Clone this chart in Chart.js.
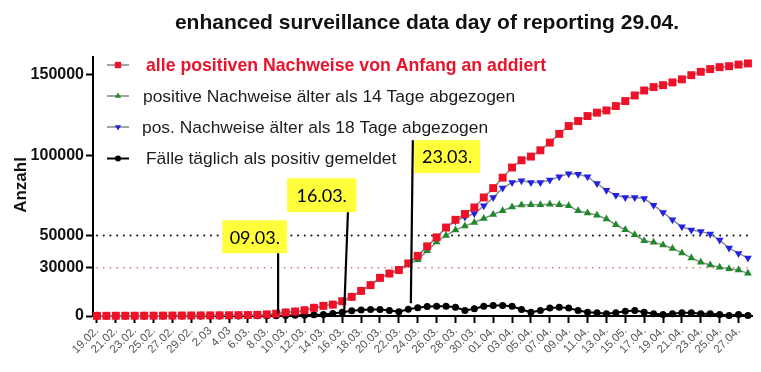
<!DOCTYPE html>
<html>
<head>
<meta charset="utf-8">
<script src="https://cdn.jsdelivr.net/npm/chart.js@4.4.1/dist/chart.umd.min.js"></script>
<style>
  body { margin: 0; background: #fff; }
  #wrap { width: 761px; height: 372px; }
</style>
</head>
<body>
<div id="wrap"><canvas id="chart" width="761" height="372"></canvas></div>
<script>
const titleText = 'enhanced surveillance data day of reporting 29.04.';
const yTitle = 'Anzahl';

// one tick label every second day, starting 19.02.
const tickLabels = ['19.02.', '21.02.', '23.02.', '25.02.', '27.02.', '29.02.', '2.03', '4.03', '6.03.', '8.03.',
  '10.03.', '12.03.', '14.03.', '16.03.', '18.03.', '20.03.', '22.03.', '24.03.', '26.03.', '28.03.',
  '30.03.', '01.04.', '03.04.', '05.04.', '07.04.', '09.04.', '11.04.', '13.04.', '15.05.', '17.04.',
  '19.04.', '21.04.', '23.04.', '25.04.', '27.04.'];
const yTicks = [0, 30000, 50000, 100000, 150000];
const refLines = [50000, 30000];

const seriesNames = [
  'alle positiven Nachweise von Anfang an addiert',
  'positive Nachweise älter als 14 Tage abgezogen',
  'pos. Nachweise älter als 18 Tage abgezogen',
  'Fälle täglich als positiv gemeldet'
];

// 19.02. .. 28.04. (70 days)
const allPositive = [100, 110, 130, 150, 170, 190, 210, 230, 260, 290,
  320, 350, 380, 420, 460, 520, 600, 700, 1000, 1450,
  2200, 2800, 3600, 5100, 6300, 7100, 9200, 11900, 15600, 19200,
  23700, 26400, 28600, 32700, 37400, 43300, 48900, 55000, 59800, 63400,
  67500, 73700, 79500, 86000, 92300, 96800, 99100, 103000, 107800, 113200,
  118100, 121200, 124300, 126400, 127800, 130500, 133600, 137100, 140200, 142300,
  143500, 145200, 147100, 149700, 151800, 153500, 154700, 155300, 156300, 157000];

const minus14 = [100, 110, 130, 150, 170, 190, 210, 230, 260, 290,
  320, 350, 380, 420, 460, 520, 600, 700, 1000, 1450,
  2200, 2800, 3600, 5100, 6300, 7100, 9200, 11900, 15600, 19200,
  23700, 26400, 28600, 31800, 35000, 40500, 46000, 50100, 53400, 56000,
  58100, 60600, 63100, 65500, 67800, 69000, 69100, 69100, 69500, 69100,
  68500, 65400, 64000, 62700, 60300, 56700, 53600, 50500, 46800, 45800,
  44100, 42000, 39200, 36100, 33400, 31700, 30300, 29300, 28600, 26500];

const minus18 = [100, 110, 130, 150, 170, 190, 210, 230, 260, 290,
  320, 350, 380, 420, 460, 520, 600, 700, 1000, 1450,
  2200, 2800, 3600, 5100, 6300, 7100, 9200, 11900, 15600, 19200,
  23700, 26400, 28600, 32700, 37400, 43300, 48900, 55000, 59000, 61500,
  63700, 68500, 73700, 79500, 83000, 84000, 83000, 83000, 84500, 86500,
  88500, 88100, 86500, 82300, 78200, 75100, 73600, 73600, 73000, 68900,
  64400, 59800, 55500, 53400, 52600, 50900, 47200, 42300, 38900, 36100];

const daily = [0, 0, 0, 0, 0, 0, 0, 0, 0, 0,
  0, 0, 0, 20, 30, 50, 80, 100, 150, 200,
  300, 400, 500, 700, 1000, 1500, 2400, 3200, 3800, 4000,
  4000, 3400, 2600, 4200, 5200, 5900, 6100, 6100, 5500, 3400,
  4500, 6100, 6500, 6500, 6100, 4000, 2400, 3400, 4900, 5500,
  4900, 3400, 2400, 2000, 1400, 2000, 3000, 3400, 2400, 1400,
  1000, 1400, 2000, 2000, 1400, 1400, 1000, 300, 1000, 300];

// date markers: line from (x1,y1) to (x2,y2), box spans [xa,xb] x [ya,yb], all in data units
const markers = [
  { text: '09.03.', x1: 19.2, y1: 1700, x2: 19.2, y2: 39000, box: [13.3, 20.15, 59500, 39000] },
  { text: '16.03.', x1: 26.2, y1: 1700, x2: 26.6, y2: 64500, box: [20.15, 27.5, 85600, 64500] },
  { text: '23.03.', x1: 33.27, y1: 7900, x2: 33.48, y2: 109300, box: [33.62, 40.6, 109300, 88800] }
];

const colors = ['#ee1127', '#1f8a2a', '#2121e4', '#000000'];
const lineGrey = '#8c8c8c';
const styles = [
  { pointStyle: 'rect', radius: 5.6, rotation: 0, line: lineGrey },
  { pointStyle: 'triangle', radius: 4.5, rotation: 0, line: lineGrey },
  { pointStyle: 'triangle', radius: 4.5, rotation: 180, line: lineGrey },
  { pointStyle: 'circle', radius: 3.5, rotation: 0, line: '#000' }
];

const dayIndex = allPositive.map((v, i) => i);
const seriesData = [allPositive, minus14, minus18, daily];

function drawMarker(ctx, style, color, x, y, r) {
  ctx.fillStyle = color;
  ctx.beginPath();
  if (style.pointStyle === 'rect') {
    const s = r * Math.SQRT1_2;
    ctx.rect(x - s, y - s, 2 * s, 2 * s);
  } else if (style.pointStyle === 'triangle') {
    const dir = style.rotation ? -1 : 1;
    ctx.moveTo(x, y - dir * r);
    ctx.lineTo(x + r * 0.866, y + dir * r * 0.5);
    ctx.lineTo(x - r * 0.866, y + dir * r * 0.5);
    ctx.closePath();
  } else {
    ctx.arc(x, y, r, 0, Math.PI * 2);
  }
  ctx.fill();
}

const overlay = {
  id: 'overlay',
  beforeDatasetsDraw(chart) {
    const { ctx, scales: { x, y } } = chart;
    ctx.save();
    ctx.lineCap = 'round';
    refLines.forEach((v, k) => {
      const py = y.getPixelForValue(v);
      ctx.strokeStyle = k === 0 ? '#111' : '#e05566';
      ctx.lineWidth = k === 0 ? 2 : 1.6;
      ctx.setLineDash([0.1, 6.6]);
      ctx.beginPath();
      ctx.moveTo(x.left + 4, py);
      ctx.lineTo(x.right - 2, py);
      ctx.stroke();
    });
    ctx.restore();
  },
  afterDatasetsDraw(chart) {
    const { ctx, scales: { x, y } } = chart;
    ctx.save();
    markers.forEach(m => {
      const bx = x.getPixelForValue(m.box[0]);
      const bw = x.getPixelForValue(m.box[1]) - bx;
      const by = y.getPixelForValue(m.box[2]);
      const bh = y.getPixelForValue(m.box[3]) - by;
      ctx.fillStyle = '#ffff3c';
      ctx.fillRect(bx, by, bw, bh);
      ctx.strokeStyle = '#000';
      ctx.lineWidth = 2.2;
      ctx.beginPath();
      ctx.moveTo(x.getPixelForValue(m.x1), y.getPixelForValue(m.y1));
      ctx.lineTo(x.getPixelForValue(m.x2), y.getPixelForValue(m.y2));
      ctx.stroke();
      ctx.fillStyle = '#000';
      ctx.font = '18px Lato';
      ctx.textAlign = 'center';
      ctx.textBaseline = 'middle';
      ctx.fillText(m.text, bx + bw / 2, by + bh / 2 + 1);
    });
    ctx.restore();
  },
  afterDraw(chart) {
    const ctx = chart.ctx;
    ctx.save();
    // title
    ctx.fillStyle = '#111';
    ctx.font = 'bold 21px "Liberation Sans"';
    ctx.textAlign = 'center';
    ctx.textBaseline = 'middle';
    ctx.fillText(titleText, 427, 23);
    // y axis title
    ctx.save();
    ctx.translate(21, 185);
    ctx.rotate(-Math.PI / 2);
    ctx.font = 'bold 17px "Liberation Sans"';
    ctx.fillText(yTitle, 0, 0);
    ctx.restore();
    // legend
    const rowY = [65, 96, 127, 158.5];
    const textX = [146, 143, 142, 146];
    seriesNames.forEach((name, i) => {
      const yy = rowY[i];
      ctx.strokeStyle = styles[i].line;
      ctx.lineWidth = i === 3 ? 2 : 1.6;
      ctx.beginPath();
      ctx.moveTo(107, yy);
      ctx.lineTo(129, yy);
      ctx.stroke();
      drawMarker(ctx, styles[i], colors[i], 118, yy, i === 3 ? 3 : styles[i].radius * 0.8);
      ctx.textAlign = 'left';
      ctx.fillStyle = i === 0 ? '#e8132c' : '#1c1c1c';
      ctx.font = i === 0 ? 'bold 17.7px "Liberation Sans"' : '17.4px "Liberation Sans"';
      ctx.fillText(name, textX[i], yy + 1);
    });
    ctx.restore();
  }
};

new Chart(document.getElementById('chart'), {
  type: 'line',
  data: {
    labels: dayIndex,
    datasets: seriesData.map((d, i) => ({
      label: seriesNames[i],
      data: d,
      borderColor: styles[i].line,
      borderWidth: i === 3 ? 2 : 1.5,
      backgroundColor: colors[i],
      pointBackgroundColor: colors[i],
      pointBorderColor: colors[i],
      pointBorderWidth: 0,
      pointStyle: styles[i].pointStyle,
      pointRadius: styles[i].radius,
      pointRotation: styles[i].rotation,
      tension: 0,
      clip: false
    }))
  },
  options: {
    responsive: false,
    animation: false,
    devicePixelRatio: 1,
    layout: { padding: { top: 57, right: 9, left: 0, bottom: 0 } },
    plugins: {
      legend: { display: false },
      title: { display: false },
      tooltip: { enabled: false }
    },
    scales: {
      x: {
        type: 'linear',
        min: -0.42,
        max: 69.43,
        afterBuildTicks: s => { s.ticks = tickLabels.map((t, k) => ({ value: k * 2 })); },
        afterFit: s => { s.height = 56; },
        ticks: {
          autoSkip: false,
          minRotation: 45,
          maxRotation: 45,
          padding: 1,
          color: '#555',
          font: { family: '"Liberation Sans"', size: 11.5 },
          callback: (v) => tickLabels[Math.round(v / 2)]
        },
        grid: { drawOnChartArea: false, drawTicks: true, tickLength: 7, tickWidth: 2, tickColor: '#000' },
        border: { display: true, color: '#000', width: 2 }
      },
      y: {
        min: 0,
        max: 161000,
        afterBuildTicks: s => { s.ticks = yTicks.map(v => ({ value: v })); },
        afterFit: s => { s.width = 93; },
        ticks: {
          padding: 2,
          color: '#111',
          font: { family: '"Liberation Sans"', size: 16, weight: 'bold' },
          callback: v => String(v)
        },
        grid: { drawOnChartArea: false, drawTicks: true, tickLength: 7, tickWidth: 2, tickColor: '#000' },
        border: { display: true, color: '#000', width: 2 }
      }
    }
  },
  plugins: [overlay]
});
</script>
</body>
</html>
